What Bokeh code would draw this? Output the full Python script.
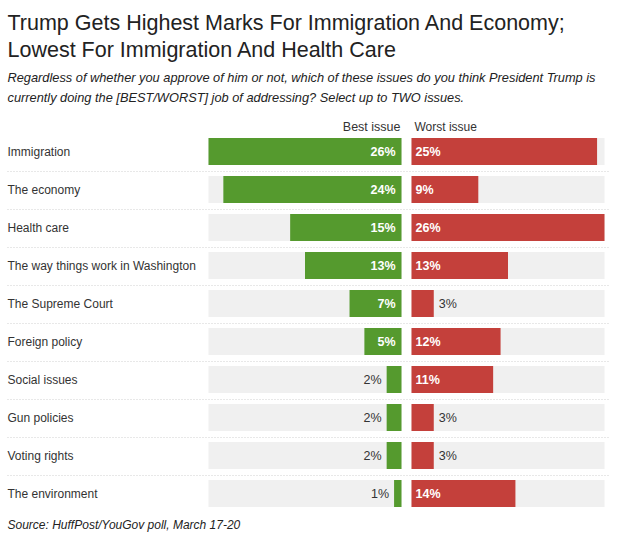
from bokeh.plotting import figure
from bokeh.models import Range1d, Label, ColumnDataSource
from bokeh.core.properties import value
from bokeh.embed import file_html
from bokeh.resources import INLINE

# ---- data ----
issues = ["Immigration", "The economy", "Health care", "The way things work in Washington",
          "The Supreme Court", "Foreign policy", "Social issues", "Gun policies",
          "Voting rights", "The environment"]
best = [26, 24, 15, 13, 7, 5, 2, 2, 2, 1]
worst = [25, 9, 26, 13, 3, 12, 11, 3, 3, 14]
max_val = 26

title_lines = ["Trump Gets Highest Marks For Immigration And Economy;",
               "Lowest For Immigration And Health Care"]
subtitle_lines = ["Regardless of whether you approve of him or not, which of these issues do you think President Trump is",
                  "currently doing the [BEST/WORST] job of addressing? Select up to TWO issues."]
source_text = "Source: HuffPost/YouGov poll, March 17-20"
col_headers = ["Best issue", "Worst issue"]

W, H = 617, 541
PX_PER = 193 / 26.0          # pixels per percentage point
CENTER = 401                  # pixel x of the zero of the green bars
GAP = 10 / PX_PER             # gap between the two columns in data units
ROW_PX = 38
ROW0 = 151

GREEN = "#559a2e"
RED = "#c4403b"
GRAY = "#f0f0f0"
TXT = "#333333"
FONT = "Liberation Sans"

p = figure(width=W, height=H, output_backend="svg", toolbar_location=None,
           x_range=Range1d(-CENTER / PX_PER, (W - CENTER) / PX_PER),
           y_range=Range1d((H - ROW0) / ROW_PX, -ROW0 / ROW_PX),
           min_border=0, min_border_left=0, min_border_right=0,
           min_border_top=0, min_border_bottom=0)
p.axis.visible = False
p.grid.visible = False
p.outline_line_color = None
p.background_fill_color = "white"
p.border_fill_color = "white"

n = len(issues)
rows = list(range(n))
bar_h = 27 / ROW_PX

src = ColumnDataSource(dict(
    y=rows, issue=issues,
    best=best, worst=worst,
    best_left=[-b for b in best],
    worst_left=[GAP] * n,
    worst_right=[GAP + w for w in worst],
    bg_l=[-max_val] * n, bg_r0=[GAP] * n, bg_r1=[GAP + max_val] * n, zero=[0] * n,
))

# background tracks
p.hbar(y="y", left="bg_l", right="zero", height=bar_h, source=src, fill_color=GRAY, line_color=None)
p.hbar(y="y", left="bg_r0", right="bg_r1", height=bar_h, source=src, fill_color=GRAY, line_color=None)
# data bars
p.hbar(y="y", left="best_left", right="zero", height=bar_h, source=src, fill_color=GREEN, line_color=None)
p.hbar(y="y", left="worst_left", right="worst_right", height=bar_h, source=src, fill_color=RED, line_color=None)

# dotted separators between rows
x0 = (7 - CENTER) / PX_PER
x1 = (608 - CENTER) / PX_PER
for i in range(n - 1):
    p.line([x0, x1], [i + 0.526, i + 0.526], line_color="#d0d0d0", line_width=1, line_dash="1 2")

# row labels
p.text(x=[x0] * n, y=rows, text=issues, text_font=value(FONT), text_font_size="12px",
       text_color=TXT, text_baseline="middle", text_align="left")

# value labels
THR = 5
pad_in = 6 / PX_PER
pad_out = 5 / PX_PER
bi = [i for i in rows if best[i] >= THR]
bo = [i for i in rows if best[i] < THR]
wi = [i for i in rows if worst[i] >= THR]
wo = [i for i in rows if worst[i] < THR]

p.text(x=[-pad_in] * len(bi), y=bi, text=[f"{best[i]}%" for i in bi],
       text_font=value(FONT), text_font_size="12.5px", text_font_style="bold",
       text_color="white", text_baseline="middle", text_align="right")
p.text(x=[-best[i] - pad_out for i in bo], y=bo, text=[f"{best[i]}%" for i in bo],
       text_font=value(FONT), text_font_size="12.5px",
       text_color=TXT, text_baseline="middle", text_align="right")
p.text(x=[GAP + 4 / PX_PER] * len(wi), y=wi, text=[f"{worst[i]}%" for i in wi],
       text_font=value(FONT), text_font_size="12.5px", text_font_style="bold",
       text_color="white", text_baseline="middle", text_align="left")
p.text(x=[GAP + worst[i] + pad_out for i in wo], y=wo, text=[f"{worst[i]}%" for i in wo],
       text_font=value(FONT), text_font_size="12.5px",
       text_color=TXT, text_baseline="middle", text_align="left")

# column headers
hy = -25 / ROW_PX
p.text(x=[-1 / PX_PER], y=[hy], text=[col_headers[0]], text_font=value(FONT),
       text_font_size="12.5px", text_color=TXT, text_baseline="middle", text_align="right")
p.text(x=[GAP + 3 / PX_PER], y=[hy], text=[col_headers[1]], text_font=value(FONT),
       text_font_size="12px", text_color=TXT, text_baseline="middle", text_align="left")

# titles (screen units, measured from bottom)
def add_label(txt, px_y, size, style="normal", color="#222222"):
    p.add_layout(Label(x=7, y=H - px_y, x_units="screen", y_units="screen", text=txt,
                       text_font=FONT, text_font_size=size, text_font_style=style,
                       text_color=color, text_baseline="alphabetic", text_align="left"))

add_label(title_lines[0], 22, "21.5px")
add_label(title_lines[1], 49, "21.5px")
add_label(subtitle_lines[0], 77, "12.8px", "italic")
add_label(subtitle_lines[1], 97, "12.8px", "italic")
add_label(source_text, 524, "12px", "italic")

open("out.html", "w").write(file_html(p, INLINE))
